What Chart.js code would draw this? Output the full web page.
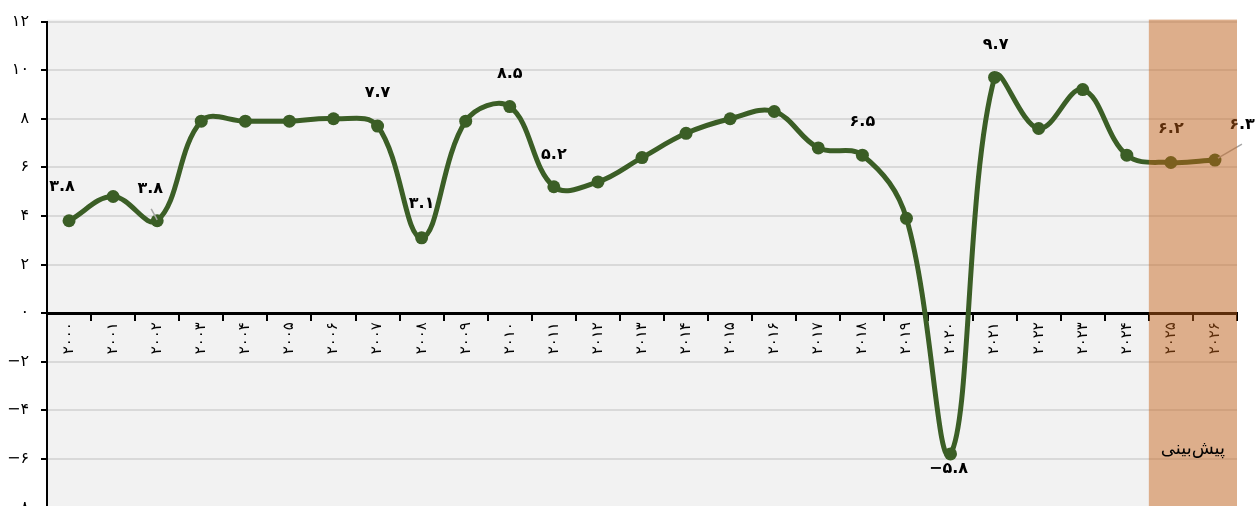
<!DOCTYPE html>
<html lang="fa">
<head>
<meta charset="utf-8">
<title>رشد اقتصادی</title>
<script src="https://cdn.jsdelivr.net/npm/chart.js@4.4.0/dist/chart.umd.min.js"></script>
<style>
  html, body { margin: 0; padding: 0; background: #fff; overflow: hidden; }
  #wrap { position: relative; width: 1257px; height: 529px; }
</style>
</head>
<body>
<div id="wrap"><canvas id="growth-chart"></canvas></div>
<script>
const years = [2000, 2001, 2002, 2003, 2004, 2005, 2006, 2007, 2008, 2009,
  2010, 2011, 2012, 2013, 2014, 2015, 2016, 2017, 2018, 2019,
  2020, 2021, 2022, 2023, 2024, 2025, 2026];
const growth = [3.8, 4.8, 3.8, 7.9, 7.9, 7.9, 8.0, 7.7, 3.1, 7.9,
  8.5, 5.2, 5.4, 6.4, 7.4, 8.0, 8.3, 6.8, 6.5, 3.9,
  -5.8, 9.7, 7.6, 9.2, 6.5, 6.2, 6.3];
const yTicks = [-8, -6, -4, -2, 0, 2, 4, 6, 8, 10, 12];
const labeledYears = [2000, 2002, 2007, 2008, 2010, 2011, 2018, 2020, 2021, 2025, 2026];
const forecastFrom = 2025;
const forecastText = "پیش‌بینی";

const faDigits = "۰۱۲۳۴۵۶۷۸۹";
function toFa(v) {
  return String(v).replace(/\d/g, d => faDigits[d]).replace("-", "−");
}

Chart.defaults.font.family = "'DejaVu Sans', sans-serif";
Chart.defaults.color = "#000";

// grey plot area behind the grid
const plotBackground = {
  id: "plotBackground",
  beforeDraw(chart) {
    const { ctx, chartArea } = chart;
    ctx.save();
    ctx.fillStyle = "#f2f2f2";
    ctx.fillRect(chartArea.left, chartArea.top - 2, chartArea.right - chartArea.left, chart.height);
    ctx.restore();
  }
};

// value labels next to some points
const pointLabels = {
  id: "pointLabels",
  afterDatasetsDraw(chart, args, opts) {
    const ctx = chart.ctx;
    const meta = chart.getDatasetMeta(0);
    ctx.save();
    ctx.font = opts.font;
    ctx.textAlign = "center";
    ctx.textBaseline = "middle";
    labeledYears.forEach(year => {
      const i = years.indexOf(year);
      const pt = meta.data[i];
      const [dx, dy] = opts.offsets[year] || [0, -32];
      const lead = opts.leaders[year];
      if (lead) {
        ctx.strokeStyle = "#a6a6a6";
        ctx.lineWidth = 1.5;
        ctx.beginPath();
        ctx.moveTo(pt.x + lead[0], pt.y + lead[1]);
        ctx.lineTo(pt.x + lead[2], pt.y + lead[3]);
        ctx.stroke();
      }
      ctx.fillStyle = "#000";
      ctx.fillText(toFa(growth[i].toFixed(1)), pt.x + dx, pt.y + dy);
    });
    ctx.restore();
  }
};

// shaded forecast years
const forecastBand = {
  id: "forecastBand",
  afterDraw(chart) {
    const { ctx, chartArea, scales } = chart;
    const i = years.indexOf(forecastFrom);
    const left = (scales.x.getPixelForValue(i - 1) + scales.x.getPixelForValue(i)) / 2;
    ctx.save();
    ctx.fillStyle = "rgba(197, 96, 22, 0.465)";
    ctx.fillRect(left, chartArea.top - 2, chartArea.right - left, chart.height);
    ctx.fillStyle = "#000";
    ctx.font = "18px 'DejaVu Sans', sans-serif";
    ctx.textAlign = "center";
    ctx.textBaseline = "middle";
    ctx.fillText(forecastText, (left + chartArea.right) / 2, scales.y.getPixelForValue(-5.6));
    ctx.restore();
  }
};

new Chart(document.getElementById("growth-chart"), {
  type: "line",
  data: {
    labels: years,
    datasets: [{
      data: growth,
      borderColor: "#3b5e26",
      backgroundColor: "#3b5e26",
      borderWidth: 5,
      pointRadius: 6.5,
      pointBorderWidth: 0,
      tension: 0.38,
      fill: false
    }]
  },
  options: {
    responsive: true,
    maintainAspectRatio: false,
    animation: false,
    layout: { padding: { top: 19, right: 20, bottom: 13, left: 0 } },
    plugins: {
      legend: { display: false },
      tooltip: { enabled: false },
      pointLabels: {
        font: "bold 16px 'DejaVu Sans', sans-serif",
        offsets: {
          2000: [-7, -34], 2002: [-7, -32], 2007: [0, -33], 2008: [0, -34],
          2010: [0, -33], 2011: [0, -32], 2018: [0, -33], 2020: [-2, 15],
          2021: [1, -33], 2025: [0, -34], 2026: [27, -35]
        },
        leaders: {
          2002: [-6, -12, 0, -1],
          2026: [27, -16, 3, -2]
        }
      }
    },
    scales: {
      x: {
        position: { y: 0 },
        offset: true,
        grid: {
          offset: true,
          drawOnChartArea: false,
          drawTicks: true,
          tickLength: 6,
          tickColor: "#000",
          lineWidth: 2
        },
        border: { color: "#000", width: 3 },
        ticks: {
          minRotation: 90,
          maxRotation: 90,
          autoSkip: false,
          padding: 3,
          font: { size: 15 },
          callback(value) { return toFa(years[value]); }
        }
      },
      y: {
        min: -8,
        max: 12,
        afterBuildTicks(scale) { scale.ticks = yTicks.map(v => ({ value: v })); },
        afterFit(scale) { scale.width = 47; },
        grid: {
          color: "#d9d9d9",
          lineWidth: 2,
          tickLength: 6,
          tickColor: "#000"
        },
        border: { color: "#000", width: 2 },
        ticks: {
          padding: 12,
          font: { size: 16 },
          callback(value) { return toFa(value); }
        }
      }
    }
  },
  plugins: [plotBackground, pointLabels, forecastBand]
});
</script>
</body>
</html>
